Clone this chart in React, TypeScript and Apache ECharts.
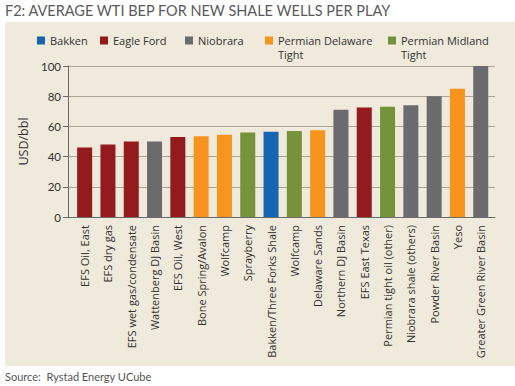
import React, { useEffect, useRef } from "react";
import * as echarts from "echarts";

const categories = [
  "EFS Oil, East",
  "EFS dry gas",
  "EFS wet gas/condensate",
  "Wattenberg DJ Basin",
  "EFS Oil, West",
  "Bone Spring/Avalon",
  "Wolfcamp",
  "Sprayberry",
  "Bakken/Three Forks Shale",
  "Wolfcamp",
  "Delaware Sands",
  "Northern DJ Basin",
  "EFS East Texas",
  "Permian tight oil (other)",
  "Niobrara shale (others)",
  "Powder River Basin",
  "Yeso",
  "Greater Green River Basin",
];
const values = [46, 48, 50, 50, 53, 53.5, 54.5, 56, 56.5, 57, 57.5, 71, 72.5, 73, 74, 80, 85, 100];
const playOf = [
  "Eagle Ford", "Eagle Ford", "Eagle Ford", "Niobrara", "Eagle Ford",
  "Permian Delaware Tight", "Permian Delaware Tight", "Permian Midland Tight",
  "Bakken", "Permian Midland Tight", "Permian Delaware Tight", "Niobrara",
  "Eagle Ford", "Permian Midland Tight", "Niobrara", "Niobrara",
  "Permian Delaware Tight", "Niobrara",
];
const plays = ["Bakken", "Eagle Ford", "Niobrara", "Permian Delaware Tight", "Permian Midland Tight"];
const playLine1 = ["Bakken", "Eagle Ford", "Niobrara", "Permian Delaware", "Permian Midland"];
const playLine2 = ["", "", "", "Tight", "Tight"];
const playColors = ["#1565b0", "#931a1d", "#6b6b6e", "#f7941e", "#76923a"];
const yTicks = [0, 20, 40, 60, 80, 100];

const FONT = "Open Sans";
const TITLE_FONT = "Lato";

export default function App() {
  const ref = useRef<HTMLDivElement>(null);
  useEffect(() => {
    const chart = echarts.init(ref.current!, null, { renderer: "svg" });
    const legendLeft = [37, 100, 185, 265, 388];
    const iconSize = 8;
    const series = plays.map((p, pi) => ({
      name: p,
      type: "bar",
      stack: "all",
      xAxisIndex: 1,
      yAxisIndex: 1,
      barWidth: 15,
      itemStyle: { color: playColors[pi] },
      data: values.map((v, i) => (playOf[i] === p ? v : null)),
    }));
    const secondLines = plays
      .map((p, pi) => ({ pi, t: playLine2[pi] }))
      .filter((d) => d.t)
      .map((d) => ({
        type: "text",
        x: legendLeft[d.pi] + iconSize + 5,
        y: 54.5,
        style: {
          text: d.t,
          font: `11px ${FONT}`,
          lineHeight: 11,
          fill: "#333333",
          verticalAlign: "middle",
        },
      }));
    chart.setOption({
      animation: false,
      backgroundColor: "#ffffff",
      textStyle: { fontFamily: FONT },
      title: {
        text: "F2: AVERAGE WTI BEP FOR NEW SHALE WELLS PER PLAY",
        left: 5,
        top: 3,
        padding: 0,
        textStyle: { fontFamily: TITLE_FONT, fontSize: 14.5, fontWeight: "normal", color: "#5a5a5c" },
      },
      graphic: [
        {
          type: "rect",
          z: -10,
          silent: true,
          shape: { x: 5, y: 22, width: 510, height: 344 },
          style: { fill: "#efeadb" },
        },
        {
          type: "text",
          left: 5,
          top: 371,
          style: { text: "Source:  Rystad Energy UCube", font: `11px ${TITLE_FONT}`, fill: "#555555" },
        },
        ...secondLines,
      ],
      legend: plays.map((p, pi) => ({
        data: [p],
        left: legendLeft[pi],
        top: 35,
        padding: 0,
        itemWidth: iconSize,
        itemHeight: iconSize,
        icon: "rect",
        formatter: () => playLine1[pi],
        textStyle: {
          fontFamily: FONT,
          fontSize: 11,
          lineHeight: 11,
          color: "#333333",
        },
      })),
      grid: [
        { left: 68, right: 20, top: 66, bottom: 169 },
        { left: 73, right: 22.6, top: 66, bottom: 169 },
      ],
      xAxis: [
        {
          type: "value",
          gridIndex: 0,
          min: 0,
          max: 1,
          axisLine: { show: true, onZero: false, lineStyle: { color: "#6b6b6b", width: 1 } },
          axisTick: { show: false },
          axisLabel: { show: false },
          splitLine: { show: false },
        },
        {
          type: "category",
          gridIndex: 1,
          data: categories,
          axisLine: { show: false },
          axisTick: { show: false },
          axisLabel: {
            rotate: 90,
            interval: 0,
            margin: 8,
            fontFamily: FONT,
            fontSize: 11,
            color: "#333333",
          },
        },
      ],
      yAxis: [
        {
          type: "value",
          gridIndex: 0,
          min: yTicks[0],
          max: yTicks[yTicks.length - 1],
          interval: 20,
          name: "USD/bbl",
          nameLocation: "middle",
          nameGap: 31,
          nameTextStyle: { fontFamily: FONT, fontSize: 12.5, color: "#333333" },
          axisLine: { show: true, lineStyle: { color: "#6b6b6b" } },
          axisTick: { show: true, length: 5, lineStyle: { color: "#6b6b6b" } },
          axisLabel: { fontFamily: TITLE_FONT, fontSize: 11.5, color: "#333333", margin: 7 },
          splitLine: { show: true, lineStyle: { color: "#aaa493", width: 1 } },
        },
        {
          type: "value",
          gridIndex: 1,
          min: 0,
          max: 100,
          show: false,
          splitLine: { show: false },
        },
      ],
      series,
    });
    return () => chart.dispose();
  }, []);
  return (
    <div
      ref={ref}
      style={{ position: "absolute", left: 0, top: 0, width: 515, height: 386 }}
    />
  );
}
